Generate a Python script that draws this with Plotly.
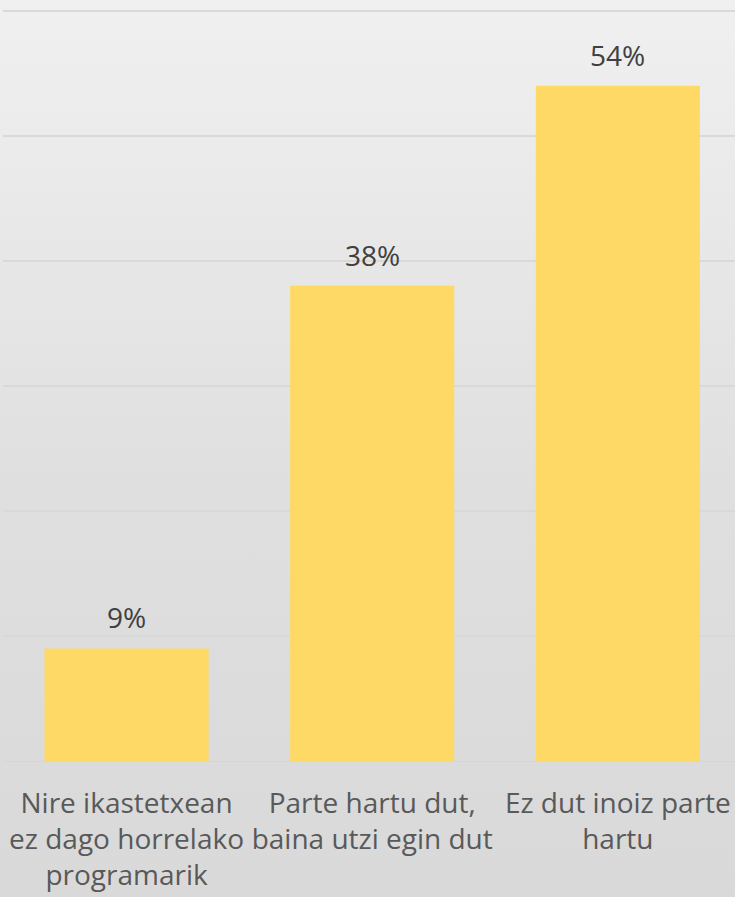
import base64

import plotly.graph_objects as go

categories = [
    "Nire ikastetxean<br>ez dago horrelako<br>programarik",
    "Parte hartu dut,<br>baina utzi egin dut",
    "Ez dut inoiz parte<br>hartu",
]
values = [9, 38, 54]
value_labels = ["9%", "38%", "54%"]

BAR_COLOR = "#ffd966"
FONT = "'Open Sans', sans-serif"

# soft vertical grey gradient behind the whole figure
gradient_svg = (
    '<svg xmlns="http://www.w3.org/2000/svg" width="10" height="100" preserveAspectRatio="none">'
    '<defs><linearGradient id="g" x1="0" y1="0" x2="0" y2="1">'
    '<stop offset="0" stop-color="#f0f0f0"/>'
    '<stop offset="0.55" stop-color="#dfdfdf"/>'
    '<stop offset="1" stop-color="#d9d9d9"/>'
    "</linearGradient></defs>"
    '<rect width="10" height="100" fill="url(#g)"/></svg>'
)
gradient_uri = "data:image/svg+xml;base64," + base64.b64encode(gradient_svg.encode()).decode()

W, H = 735, 897
M = dict(l=3, r=0, t=7, b=136)
plot_w = W - M["l"] - M["r"]
plot_h = H - M["t"] - M["b"]

fig = go.Figure(
    go.Bar(
        x=categories,
        y=values,
        marker=dict(color=BAR_COLOR, line=dict(width=0)),
        hoverinfo="skip",
    )
)

# value labels sit a little higher above the bars than plotly's own outside text
for cat, val, lab in zip(categories, values, value_labels):
    fig.add_annotation(
        x=cat, y=val, text=lab, showarrow=False,
        yanchor="bottom", yshift=10,
        font=dict(family=FONT, size=28, color="#404040"),
    )

fig.update_layout(
    width=W,
    height=H,
    margin=M,
    bargap=0.332,
    paper_bgcolor="#e4e4e4",
    plot_bgcolor="rgba(0,0,0,0)",
    showlegend=False,
    font=dict(family=FONT, size=28, color="#595959"),
    images=[
        dict(
            source=gradient_uri,
            xref="paper",
            yref="paper",
            x=-M["l"] / plot_w,
            y=1 + M["t"] / plot_h,
            sizex=W / plot_w,
            sizey=H / plot_h,
            sizing="stretch",
            xanchor="left",
            yanchor="top",
            layer="below",
        )
    ],
    xaxis=dict(
        showgrid=False,
        showline=True,
        linecolor="#d6d6d6",
        linewidth=1,
        ticks="",
        ticklabelstandoff=17,
        tickfont=dict(family=FONT, size=28, color="#595959"),
        range=[-0.503, 2.477],
    ),
    yaxis=dict(
        # a bit of headroom so the 60% gridline is not clipped at the edge
        range=[0, 60.3],
        tickvals=[0, 10, 20, 30, 40, 50, 60],
        showgrid=True,
        gridcolor="#d9d9d9",
        gridwidth=1.5,
        showticklabels=False,
        zeroline=False,
        ticks="",
    ),
)

fig.write_html(
    "out.html",
    config={"displayModeBar": False},
    post_script="document.body.style.margin='0';",
)
